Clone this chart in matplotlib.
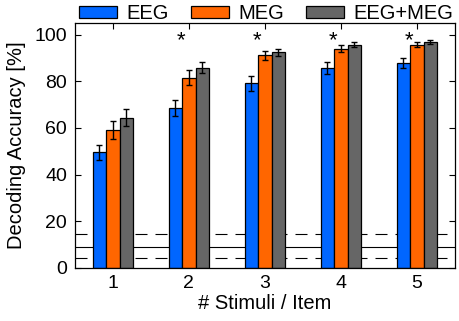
import numpy as np
import matplotlib
matplotlib.use('Agg')
from matplotlib import pyplot as plt
from matplotlib.patches import Patch

plt.rcParams['font.family'] = ['Liberation Sans', 'DejaVu Sans']

# values
stimuli = [1, 2, 3, 4, 5]
eeg = [49.5, 68.5, 79.2, 85.6, 87.8]
eeg_err = [3.3, 3.3, 3.2, 2.5, 2.2]
meg = [59.1, 81.5, 91.1, 94.1, 95.8]
meg_err = [4.0, 3.2, 2.1, 1.3, 1.0]
both = [64.4, 85.8, 92.4, 95.8, 96.9]
both_err = [3.7, 2.4, 1.5, 0.9, 0.7]
signif = [2, 3, 4, 5]
chance = 8.7
chance_lo = 4.0
chance_hi = 14.3

fig = plt.figure(figsize=(4.59, 3.21), dpi=100)
ax = fig.add_axes([0.163, 0.166, 0.828, 0.762])

# chance level lines behind the bars
ax.axhline(chance, color='k', lw=0.8, zorder=1)
ax.axhline(chance_lo, color='k', lw=0.8, ls=(0, (10.8, 7.2)), zorder=1)
ax.axhline(chance_hi, color='k', lw=0.8, ls=(0, (10.8, 7.2)), zorder=1)

x = np.array(stimuli, dtype=float)
w = 0.178
cols = ['#0066ff', '#ff6600', '#666666']
for off, vals, errs, c in zip([-w, 0, w], [eeg, meg, both], [eeg_err, meg_err, both_err], cols):
    ax.bar(x + off, vals, width=w, color=c, edgecolor='k', linewidth=0.9, zorder=2)
    ax.errorbar(x + off, vals, yerr=errs, fmt='none', ecolor='k', elinewidth=1.0,
                capsize=2.4, capthick=1.0, zorder=3)

for s in signif:
    ax.text(s - 0.106, 95.0, '*', ha='center', va='baseline', fontsize=16, zorder=4)

ax.set_xlim(0.5, 5.5)
ax.set_ylim(0, 105)
ax.set_xticks(stimuli)
ax.set_yticks([0, 20, 40, 60, 80, 100])
ax.tick_params(direction='in', length=4, width=0.8, top=True, right=True,
               labelsize=14, pad=5.5)
for sp in ax.spines.values():
    sp.set_linewidth(0.9)
ax.set_xlabel('# Stimuli / Item', fontsize=14.5, labelpad=1.5)
ax.set_ylabel('Decoding Accuracy [%]', fontsize=14.5, labelpad=6)

handles = [Patch(facecolor=c, edgecolor='k', linewidth=0.9) for c in cols]
fig.legend(handles, ['EEG', 'MEG', 'EEG+MEG'], loc='center left', ncol=3,
           bbox_to_anchor=(0.172, 0.957), frameon=False, fontsize=14.5,
           borderpad=0, borderaxespad=0,
           handlelength=1.9, handleheight=0.55, handletextpad=0.45, columnspacing=1.1)

fig.savefig('out.png', dpi=100)
